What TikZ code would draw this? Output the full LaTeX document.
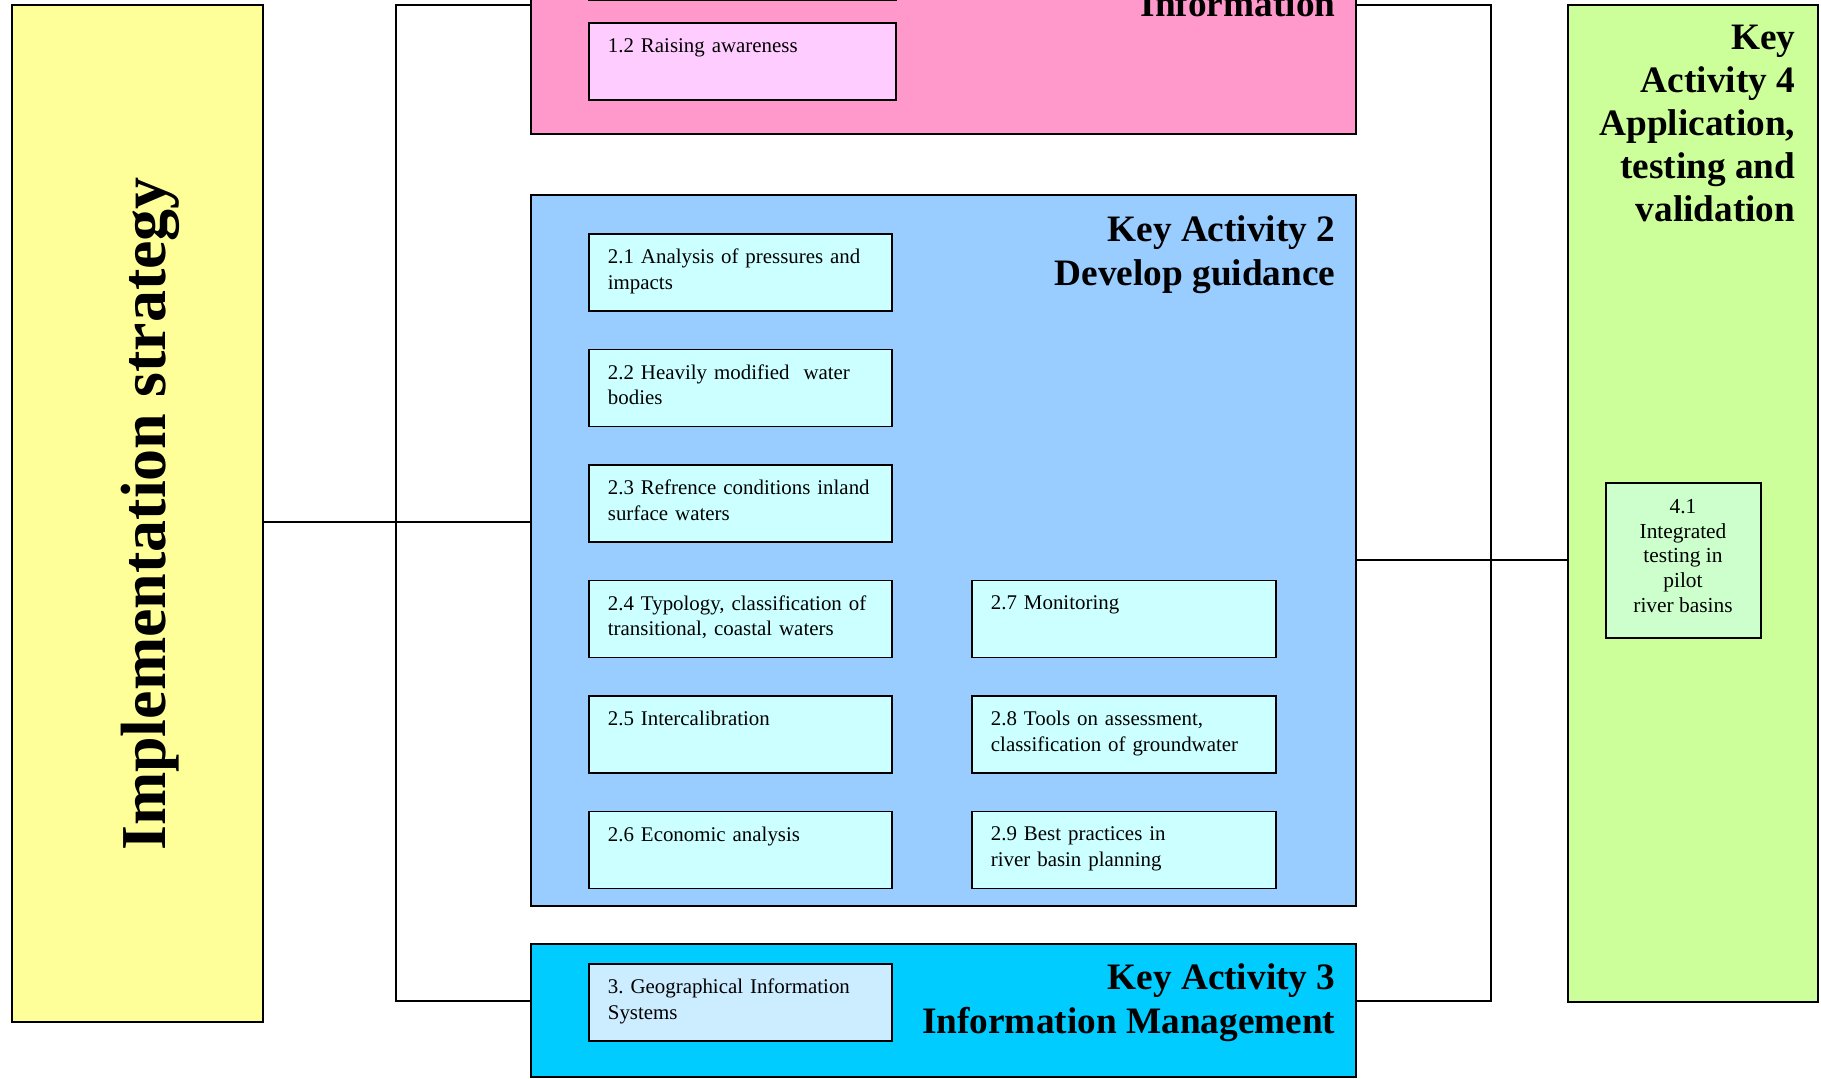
\documentclass[tikz,border=0pt]{standalone}
\usepackage{fontspec}
\setmainfont{Liberation Serif}
\frenchspacing
\definecolor{pinkbg}{HTML}{FF99CC}
\definecolor{pinksub}{HTML}{FFCCFF}
\definecolor{bluebg}{HTML}{99CCFF}
\definecolor{subcyan}{HTML}{CCFFFF}
\definecolor{cyanbg}{HTML}{00CCFF}
\definecolor{gissub}{HTML}{CCECFF}
\definecolor{greenbg}{HTML}{CCFF99}
\definecolor{greensub}{HTML}{CCFFCC}
\definecolor{yellowbg}{HTML}{FFFF99}
\tikzset{
  big/.style={draw=black, line width=2pt, inner sep=0pt, rectangle},
  subbox/.style={draw=black, line width=1.8pt, minimum height=77pt, inner sep=0pt, anchor=north west, rectangle},
  subtxt/.style={anchor=north west, inner sep=0pt, text width=300pt, align=left,
    font=\fontsize{20.9}{25.5}\selectfont},
  title/.style={anchor=north east, inner sep=0pt, align=right,
    font=\bfseries\fontsize{37.3}{44}\selectfont},
  conn/.style={line width=2pt, draw=black},
}
\newcommand\mysub[6]{%
  \node[subbox, fill=#5, minimum width=#4pt] (#1) at (#2,#3) {};
  \node[subtxt] (#1t) at ([xshift=19.7pt, yshift=-16pt]#1.north west) {#6};}
\begin{document}
\begin{tikzpicture}[x=1pt, y=-1pt]
\useasboundingbox (0,0) rectangle (1821,1079);
\clip (0,0) rectangle (1821,1079);
\fill[white] (0,0) rectangle (1821,1079);

% big boxes
\node[big, fill=yellowbg, minimum width=251pt, minimum height=1017.5pt] (ys) at (137,513.3) {};
\node[rotate=90, inner sep=0pt, font=\bfseries\fontsize{64}{70}\selectfont] (ist) at (150,514) {Implementation strategy};

\node[big, fill=pinkbg, minimum width=825pt, minimum height=233.6pt] (ka1) at (943.5,16.8) {};
\node[big, fill=bluebg, minimum width=825pt, minimum height=711pt] (ka2) at (943.5,550.5) {};
\node[big, fill=cyanbg, minimum width=825pt, minimum height=133pt] (ka3) at (943.5,1010.5) {};
\node[big, fill=greenbg, minimum width=249.6pt, minimum height=997.4pt] (ka4) at (1692.8,503.3) {};

% titles
\node[title, anchor=base east] (t1) at (1335.6,16) {Information};
\node[title] (t2) at (1335.6,215.3) {Key Activity 2\\Develop guidance};
\node[title] (t3) at (1335.6,963.8) {Key Activity 3\\Information Management};
\node[title, font=\bfseries\fontsize{37.3}{43}\selectfont] (t4) at (1795.5,25.3) {Key\\Activity 4\\Application,\\testing and\\validation};

% key activity 1 sub boxes
\node[subbox, fill=pinksub, minimum width=307pt, minimum height=80pt, anchor=south west] (b11) at (588,1) {};
\mysub{b12}{588}{22}{307}{pinksub}{1.2 Raising awareness}

% key activity 2 sub boxes
\mysub{b21}{588}{233}{303}{subcyan}{2.1 Analysis of pressures and\\impacts}
\mysub{b22}{588}{348.5}{303}{subcyan}{2.2 Heavily modified~ water\\bodies}
\mysub{b23}{588}{464}{303}{subcyan}{2.3 Refrence conditions inland\\surface waters}
\mysub{b24}{588}{579.5}{303}{subcyan}{2.4 Typology, classification of\\transitional, coastal waters}
\mysub{b25}{588}{695}{303}{subcyan}{2.5 Intercalibration}
\mysub{b26}{588}{810.5}{303}{subcyan}{2.6 Economic analysis}
\mysub{b27}{971}{579.5}{304}{subcyan}{2.7 Monitoring}
\mysub{b28}{971}{695}{304}{subcyan}{2.8 Tools on assessment,\\classification of groundwater}
\mysub{b29}{971}{810.5}{304}{subcyan}{2.9 Best practices in\\river basin planning}

% key activity 3 sub box
\mysub{b3}{588}{963}{303}{gissub}{3. Geographical Information\\Systems}

% key activity 4 sub box
\node[subbox, fill=greensub, minimum width=154.7pt, minimum height=154.6pt, anchor=center] (b41) at (1683.4,560.3) {};
\node[inner sep=0pt, align=center, font=\fontsize{21.4}{24.75}\selectfont] (b41t) at (1683,556) {4.1\\Integrated\\testing in\\pilot\\river basins};

% connector coordinates
\coordinate (lt) at (396,4.6);
\coordinate (lb) at (396,1001);
\coordinate (ml) at (396,521.5);
\coordinate (rt) at (1491,4.6);
\coordinate (rb) at (1491,1001);
\coordinate (rm) at (1491,560);

% connectors
\draw[conn] (ka1.west |- lt) -- (lt) -- (lb) -- (ka3.west |- lb);
\draw[conn] (ys.east |- ml) -- (ka2.west |- ml);
\draw[conn] (ka1.east |- rt) -- (rt) -- (rb) -- (ka3.east |- rb);
\draw[conn] (ka2.east |- rm) -- (ka4.west |- rm);
\end{tikzpicture}
\end{document}
